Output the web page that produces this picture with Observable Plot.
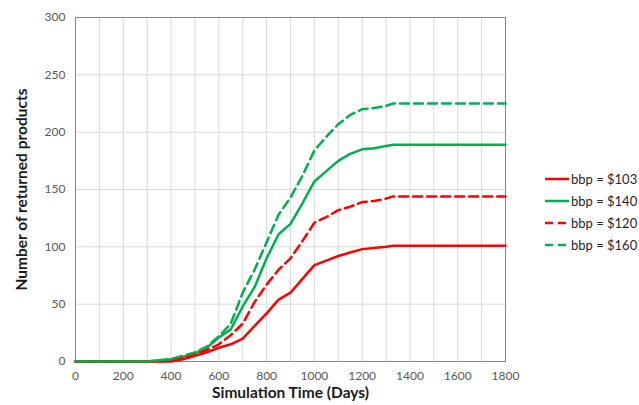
<!DOCTYPE html>
<html>
<head>
<meta charset="utf-8">
<script src="https://cdn.jsdelivr.net/npm/d3@7"></script>
<script src="https://cdn.jsdelivr.net/npm/@observablehq/plot@0.6"></script>
<style>
  html, body { margin: 0; padding: 0; background: #fff; }
  #wrap { position: relative; width: 639px; height: 405px; font-family: Lato, "Open Sans", sans-serif; }
  #legend { position: absolute; left: 545px; top: 168px; font-size: 13px; color: #262626; }
  .row { display: flex; align-items: center; height: 22px; }
  .row svg { margin-right: 2px; }
</style>
</head>
<body>
<div id="wrap"><div id="legend"></div></div>
<script>
// Data (days vs. cumulative returned products)
const days      = [0, 300, 350, 400, 450, 500, 550, 600, 650, 700, 750, 800, 850, 900, 950, 1000, 1050, 1100, 1150, 1200, 1250, 1300, 1330, 1800];
const bbp103    = [0,   0,   0,   0,   2,   5,   8,  12,  15,  20,  31,  42,  54,  60,  72,   84,   88,   92,   95,   98,   99,  100,  101,  101];
const bbp140    = [0,   0,   1,   2,   4,   7,  12,  21,  28,  48,  65,  90, 111, 120, 138,  157,  166,  175,  181,  185,  186,  188,  189,  189];
const bbp120    = [0,   0,   0,   1,   3,   6,  10,  15,  23,  33,  52,  67,  80,  90, 105,  121,  126,  132,  135,  139,  140,  142,  144,  144];
const bbp160    = [0,   0,   1,   2,   5,   8,  13,  22,  33,  60,  80, 104, 128, 143, 162,  184,  196,  207,  215,  220,  221,  223,  225,  225];
const seriesNames = ["bbp = $103", "bbp = $140", "bbp = $120", "bbp = $160"];
const seriesValues = [bbp103, bbp140, bbp120, bbp160];
const seriesColors = ["#ff0000", "#00b050", "#ff0000", "#00b050"];
const seriesDash   = [null, null, "9,5", "9,5"];
const xTicks = [0, 200, 400, 600, 800, 1000, 1200, 1400, 1600, 1800];
const yTicks = [0, 50, 100, 150, 200, 250, 300];
const xGrid = d3.range(0, 1801, 100);

const tables = seriesValues.map(vals => days.map((d, i) => ({day: d, value: vals[i]})));

const chart = Plot.plot({
  width: 639,
  height: 405,
  marginLeft: 75,
  marginRight: 134,
  marginTop: 17,
  marginBottom: 44,
  style: { fontFamily: "Lato, 'Open Sans', sans-serif", background: "#fff" },
  x: { domain: [0, 1800] },
  y: { domain: [0, 300] },
  marks: [
    Plot.gridX(xGrid, { stroke: "#d9d9d9", strokeOpacity: 1 }),
    Plot.gridY(yTicks, { stroke: "#d9d9d9", strokeOpacity: 1 }),
    Plot.frame({ stroke: "#868686", strokeWidth: 1 }),
    Plot.axisX({ ticks: xTicks, tickFormat: d => String(d), tickSize: 0, tickPadding: 10, label: null, fontSize: 12, color: "#595959" }),
    Plot.axisY({ ticks: yTicks, tickFormat: d => String(d), tickSize: 0, tickPadding: 10, label: null, fontSize: 12, color: "#595959" }),
    ...tables.map((t, i) => Plot.line(t, {
      x: "day", y: "value",
      stroke: seriesColors[i],
      strokeWidth: 2.5,
      strokeDasharray: seriesDash[i] || undefined
    })),
    Plot.text(["Simulation Time (Days)"], { frameAnchor: "bottom", dy: 36, fontSize: 15.5, fontWeight: "bold", fill: "#1a1a1a", textAnchor: "middle" }),
    Plot.text(["Number of returned products"], { frameAnchor: "left", dx: -53, rotate: -90, fontSize: 15.5, fontWeight: "bold", fill: "#1a1a1a", textAnchor: "middle" })
  ]
});
document.getElementById("wrap").prepend(chart);

// Legend (HTML, right side)
const legend = document.getElementById("legend");
seriesNames.forEach((name, i) => {
  const row = document.createElement("div");
  row.className = "row";
  const dash = seriesDash[i] ? `stroke-dasharray="8,5"` : "";
  row.innerHTML = `<svg width="24" height="6"><line x1="0" y1="3" x2="24" y2="3" stroke="${seriesColors[i]}" stroke-width="2.5" ${dash}/></svg><span>${name}</span>`;
  legend.appendChild(row);
});
chart.style.position = "absolute";
chart.style.left = "0";
chart.style.top = "0";
</script>
</body>
</html>
